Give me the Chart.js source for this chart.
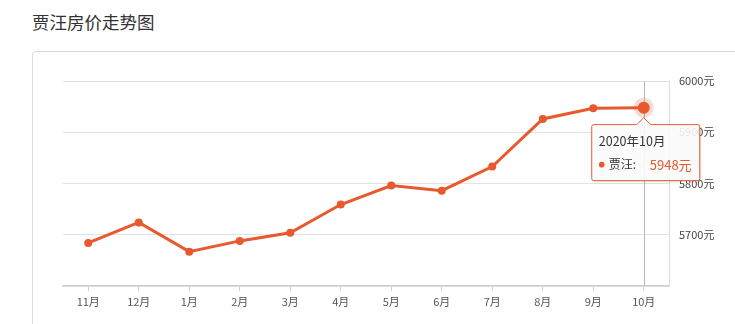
<!DOCTYPE html>
<html><head><meta charset="utf-8">
<script src="https://cdn.jsdelivr.net/npm/chart.js@4"></script>
<style>
html,body{margin:0;padding:0;background:#fff;width:735px;height:324px;overflow:hidden;font-family:"Noto Sans CJK SC","Noto Sans",sans-serif;}
#title{position:absolute;left:32px;top:9px;font-size:17.5px;color:#333;line-height:26px;}
#card{position:absolute;left:32px;top:51px;width:740px;height:300px;border:1px solid #dcdcdc;border-radius:4px;box-sizing:border-box;}
#wrap{position:absolute;left:0;top:0;width:735px;height:324px;}
</style></head><body>
<div id="title">贾汪房价走势图</div>
<div id="card"></div>
<div id="wrap"><canvas id="c" width="735" height="324"></canvas></div>
<script>
const categories = ['11月','12月','1月','2月','3月','4月','5月','6月','7月','8月','9月','10月'];
const prices = [5684,5724,5667,5688,5704,5759,5796,5786,5833,5926,5947,5948];
const seriesName = '贾汪';
const tooltipTitle = '2020年10月';
const yTicks = [5600,5700,5800,5900,6000];
const unit = '元';

const LINE = '#e8592f';
const FONT = '"Noto Sans CJK SC","Noto Sans",sans-serif';
const activeIndex = prices.length - 1;

const hoverPlugin = {
  id: 'hoverPlugin',
  beforeDatasetsDraw(chart){
    const {ctx, chartArea} = chart;
    const pt = chart.getDatasetMeta(0).data[activeIndex];
    ctx.save();
    ctx.strokeStyle = '#b8b8b8';
    ctx.lineWidth = 1;
    ctx.beginPath();
    ctx.moveTo(Math.round(pt.x)+0.5, chartArea.top);
    ctx.lineTo(Math.round(pt.x)+0.5, chartArea.bottom);
    ctx.stroke();
    ctx.restore();
  },
  afterDatasetsDraw(chart){
    const {ctx} = chart;
    const pt = chart.getDatasetMeta(0).data[activeIndex];
    ctx.save();
    ctx.fillStyle = 'rgba(232,89,47,0.22)';
    ctx.beginPath(); ctx.arc(pt.x, pt.y, 10, 0, Math.PI*2); ctx.fill();
    ctx.fillStyle = LINE;
    ctx.beginPath(); ctx.arc(pt.x, pt.y, 6, 0, Math.PI*2); ctx.fill();

    // tooltip box
    const bx = pt.x - 52, by = pt.y + 17, bw = 108, bh = 56;
    const cx = pt.x, tipY = pt.y + 10;
    ctx.beginPath();
    ctx.moveTo(bx+2, by);
    ctx.lineTo(cx-7, by);
    ctx.lineTo(cx, tipY);
    ctx.lineTo(cx+7, by);
    ctx.lineTo(bx+bw-2, by);
    ctx.quadraticCurveTo(bx+bw, by, bx+bw, by+2);
    ctx.lineTo(bx+bw, by+bh-2);
    ctx.quadraticCurveTo(bx+bw, by+bh, bx+bw-2, by+bh);
    ctx.lineTo(bx+2, by+bh);
    ctx.quadraticCurveTo(bx, by+bh, bx, by+bh-2);
    ctx.lineTo(bx, by+2);
    ctx.quadraticCurveTo(bx, by, bx+2, by);
    ctx.closePath();
    ctx.shadowColor = 'rgba(0,0,0,0.15)';
    ctx.shadowBlur = 3; ctx.shadowOffsetX = 1; ctx.shadowOffsetY = 1;
    ctx.fillStyle = 'rgba(255,255,255,0.88)';
    ctx.fill();
    ctx.shadowColor = 'transparent';
    ctx.strokeStyle = LINE; ctx.lineWidth = 1;
    ctx.stroke();

    ctx.textBaseline = 'middle';
    ctx.textAlign = 'left';
    ctx.font = '12.5px ' + FONT;
    ctx.fillStyle = '#333';
    ctx.fillText(tooltipTitle, bx + 7, by + 17);
    ctx.fillStyle = LINE;
    ctx.beginPath(); ctx.arc(bx + 10, by + 40, 2.8, 0, Math.PI*2); ctx.fill();
    ctx.fillStyle = '#333';
    ctx.font = '12px ' + FONT;
    ctx.fillText(seriesName + ':', bx + 17, by + 40);
    ctx.fillStyle = LINE;
    ctx.font = '13px ' + FONT;
    ctx.fillText(prices[activeIndex] + unit, bx + 58, by + 40);
    ctx.restore();
  }
};

new Chart(document.getElementById('c'), {
  type: 'line',
  data: {
    labels: categories,
    datasets: [{
      label: seriesName,
      data: prices,
      borderColor: LINE,
      backgroundColor: LINE,
      borderWidth: 3,
      tension: 0,
      pointRadius: ctx => ctx.dataIndex === activeIndex ? 0 : 4,
      pointBackgroundColor: LINE,
      pointBorderWidth: 0,
      fill: false
    }]
  },
  options: {
    responsive: false,
    animation: false,
    events: [],
    layout: { padding: { left: 63, top: 81, right: 0, bottom: 0 } },
    plugins: { legend: { display: false }, tooltip: { enabled: false }, title: { display: false } },
    scales: {
      x: {
        offset: true,
        grid: { drawOnChartArea: false, drawTicks: true, tickLength: 5, color: '#cfcfcf' },
        border: { color: '#cfcfcf', width: 1.5 },
        ticks: { color: '#555', font: { family: FONT, size: 11 }, padding: 4, maxRotation: 0, autoSkip: false },
        afterFit(s){ s.height = 38; }
      },
      y: {
        position: 'right',
        min: yTicks[0], max: yTicks[yTicks.length-1],
        afterBuildTicks(s){ s.ticks = yTicks.map(v => ({ value: v })); },
        grid: { color: '#e2e2e2', drawTicks: false },
        border: { color: '#dcdcdc', display: true },
        ticks: {
          color: '#444', font: { family: FONT, size: 11 }, padding: 10,
          callback: v => v === yTicks[0] ? '' : v + unit
        },
        afterFit(s){ s.width = 66; }
      }
    }
  },
  plugins: [hoverPlugin]
});
</script>
</body></html>
